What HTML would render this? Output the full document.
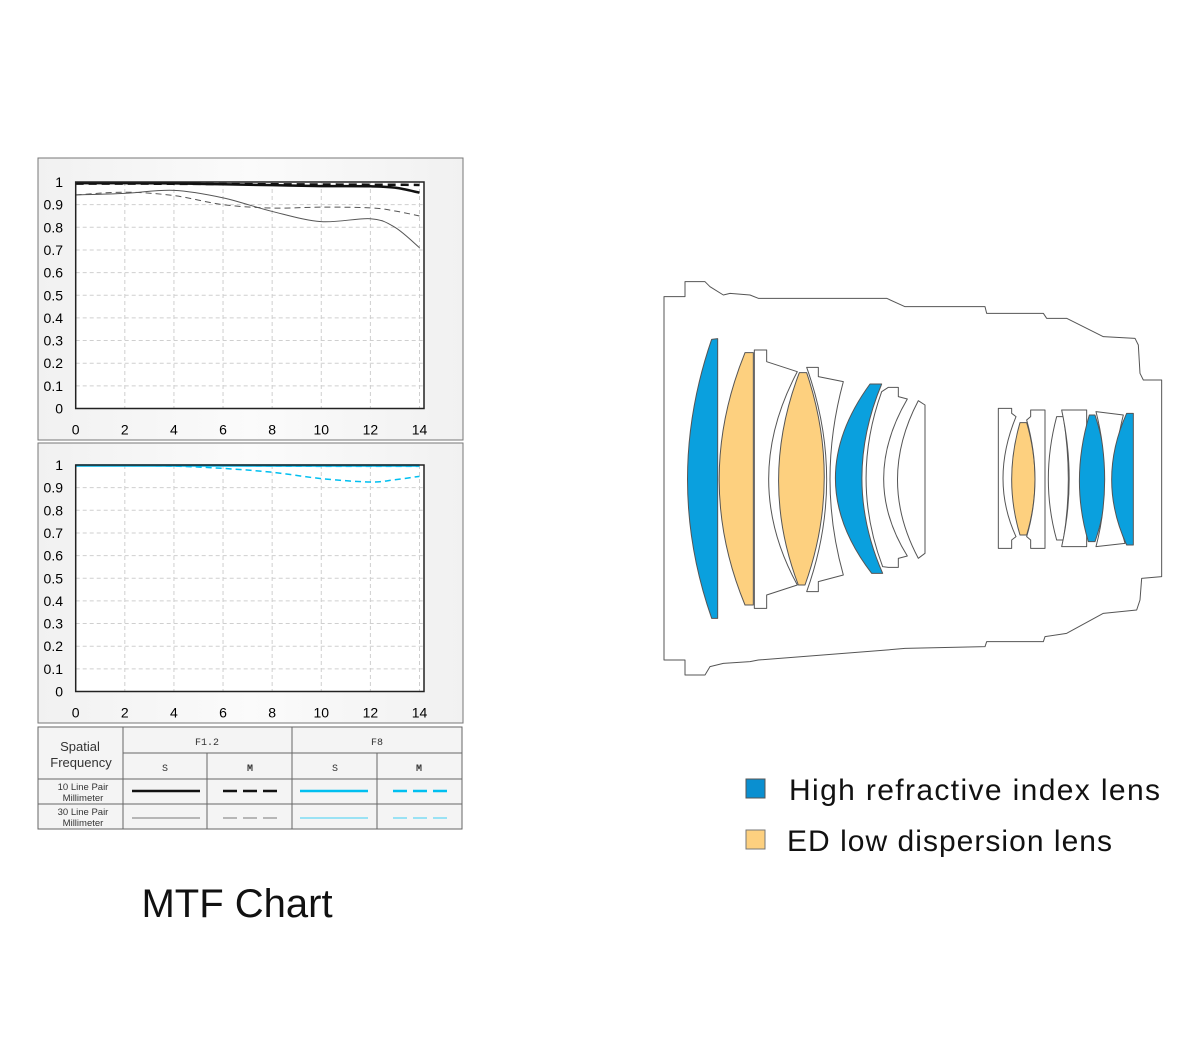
<!DOCTYPE html>
<html><head><meta charset="utf-8">
<style>
html,body{margin:0;padding:0;background:#fff;}
body{width:1200px;height:1049px;overflow:hidden;font-family:"Liberation Sans",sans-serif;}
svg{position:absolute;left:0;top:0;}
</style></head>
<body>
<svg id="root" width="1200" height="1049" viewBox="0 0 1200 1049">
<defs>
<linearGradient id="pg" x1="0" y1="0" x2="1" y2="0">
<stop offset="0" stop-color="#f1f1f1"/><stop offset="0.5" stop-color="#fbfbfb"/><stop offset="1" stop-color="#f1f1f1"/>
</linearGradient>
</defs>
<g id="charts"></g>

<g id="table" font-family="Liberation Sans, sans-serif">
<rect x="38" y="727" width="424" height="102" fill="#f4f4f4" stroke="#666" stroke-width="1"/>
<g stroke="#666" stroke-width="1">
<line x1="123" y1="727" x2="123" y2="829"/>
<line x1="292" y1="727" x2="292" y2="829"/>
<line x1="207" y1="753" x2="207" y2="829"/>
<line x1="377" y1="753" x2="377" y2="829"/>
<line x1="123" y1="753" x2="462" y2="753"/>
<line x1="38" y1="779" x2="462" y2="779"/>
<line x1="38" y1="804" x2="462" y2="804"/>
</g>
<g fill="#333">
<text x="80" y="751" font-size="13" text-anchor="middle">Spatial</text>
<text x="81" y="767" font-size="13" text-anchor="middle">Frequency</text>
<text x="207" y="745" font-size="10" text-anchor="middle" font-family="Liberation Mono, monospace">F1.2</text>
<text x="377" y="745" font-size="10" text-anchor="middle" font-family="Liberation Mono, monospace">F8</text>
<text x="165" y="771" font-size="10" text-anchor="middle" font-family="Liberation Mono, monospace">S</text>
<text x="250" y="771" font-size="10" text-anchor="middle" font-family="Liberation Mono, monospace" font-weight="bold">M</text>
<text x="335" y="771" font-size="10" text-anchor="middle" font-family="Liberation Mono, monospace">S</text>
<text x="419" y="771" font-size="10" text-anchor="middle" font-family="Liberation Mono, monospace" font-weight="bold">M</text>
<text x="83" y="790" font-size="9.5" text-anchor="middle">10 Line Pair</text>
<text x="83" y="801" font-size="9.5" text-anchor="middle">Millimeter</text>
<text x="83" y="815" font-size="9.5" text-anchor="middle">30 Line Pair</text>
<text x="83" y="826" font-size="9.5" text-anchor="middle">Millimeter</text>
</g>
<line x1="132" y1="791" x2="200" y2="791" stroke="#111" stroke-width="2.5"/>
<line x1="223" y1="791" x2="278" y2="791" stroke="#111" stroke-width="2.5" stroke-dasharray="14,6"/>
<line x1="300" y1="791" x2="368" y2="791" stroke="#00bff0" stroke-width="2.5"/>
<line x1="393" y1="791" x2="448" y2="791" stroke="#00bff0" stroke-width="2.5" stroke-dasharray="14,6"/>
<line x1="132" y1="818" x2="200" y2="818" stroke="#777" stroke-width="1"/>
<line x1="223" y1="818" x2="278" y2="818" stroke="#777" stroke-width="1" stroke-dasharray="14,6"/>
<line x1="300" y1="818" x2="368" y2="818" stroke="#40cff5" stroke-width="1"/>
<line x1="393" y1="818" x2="448" y2="818" stroke="#40cff5" stroke-width="1" stroke-dasharray="14,6"/>
</g>

<text x="237" y="917" font-size="40" text-anchor="middle" fill="#111">MTF Chart</text>

<g transform="translate(660,280) scale(0.33333)" stroke="#555" stroke-width="3" stroke-linejoin="round">
<path fill="#fff" d="M12,50 L75,50 L75,5 L135,5 L150,20 L190,45 L210,40 L270,45 L295,55 L680,55 L735,80 L975,80 L980,100 L1150,100 L1160,115 L1220,115 L1330,170 L1425,175 L1435,195 L1440,280 L1450,300 L1505,300 L1505,890 L1445,895 L1440,960 L1430,990 L1330,1000 L1220,1060 L1155,1070 L1150,1085 L980,1085 L975,1100 L735,1105 L680,1110 L295,1140 L270,1145 L190,1150 L150,1160 L135,1185 L75,1185 L75,1140 L12,1140 Z"/>
<path fill="#0aa0de" d="M155,178 L173,176 L173,1015 L155,1015 Q10,600 155,178 Z"/>
<path fill="#fdd07f" d="M255,218 L280,218 L280,975 L255,975 Q100,600 255,218 Z"/>
<path fill="#fff" d="M283,210 L320,210 L320,245 L412,275 Q240,600 412,915 L320,945 L320,985 L283,985 Z"/>
<path fill="#fdd07f" d="M418,278 L440,278 Q548,600 435,915 L415,915 Q295,600 418,278 Z"/>
<path fill="#fff" d="M440,262 L475,262 L475,290 L550,305 Q470,600 550,885 L475,905 L475,935 L440,935 Q560,600 440,262 Z"/>
<path fill="#0aa0de" d="M630,312 L665,312 Q545,600 668,880 L635,880 Q420,600 630,312 Z"/>
<path fill="#fff" d="M685,322 L715,322 L715,350 L742,357 Q600,600 742,828 L715,835 L715,862 L685,862 L668,860 Q570,600 665,335 Z"/>
<path fill="#fff" d="M775,362 L795,375 L795,820 L775,835 Q650,600 775,362 Z"/>
<path fill="#fff" d="M1015,385 L1055,385 L1055,400 L1068,410 Q990,600 1068,770 L1055,780 L1055,805 L1015,805 Z"/>
<path fill="#fdd07f" d="M1080,428 L1100,428 Q1150,600 1100,765 L1080,765 Q1030,600 1080,428 Z"/>
<path fill="#fff" d="M1112,390 L1155,390 L1155,805 L1112,805 L1112,780 L1100,770 Q1150,600 1100,420 L1112,410 Z"/>
<path fill="#fff" d="M1190,410 L1210,410 Q1240,600 1210,780 L1190,780 Q1140,600 1190,410 Z"/>
<path fill="#fff" d="M1205,390 L1280,390 L1280,800 L1205,800 Q1250,600 1205,390 Z"/>
<path fill="#0aa0de" d="M1288,405 L1305,405 Q1370,600 1305,785 L1285,785 Q1230,600 1288,405 Z"/>
<path fill="#fff" d="M1308,395 L1390,405 Q1340,600 1395,790 L1308,800 Q1360,600 1308,395 Z"/>
<path fill="#0aa0de" d="M1400,400 L1420,400 L1420,795 L1400,795 Q1310,600 1400,400 Z"/>
</g>

<g>
<rect x="746" y="779" width="19" height="19" fill="#0a8fd0" stroke="#555" stroke-width="1"/>
<text x="789" y="800" font-size="30" fill="#111" textLength="371">High refractive index lens</text>
<rect x="746" y="830" width="19" height="19" fill="#fdd07f" stroke="#777" stroke-width="1"/>
<text x="787" y="851" font-size="30" fill="#111" textLength="325">ED low dispersion lens</text>
</g>
</svg>

<script>
// Shared axis data
const xTicks = [0, 2, 4, 6, 8, 10, 12, 14];
const yTicks = [0, 0.1, 0.2, 0.3, 0.4, 0.5, 0.6, 0.7, 0.8, 0.9, 1];
const xs = [0, 2, 4, 6, 8, 10, 12, 13, 14];

// Top chart (F1.2)
const f12S10 = [0.995, 0.995, 0.994, 0.99, 0.986, 0.982, 0.981, 0.975, 0.953];
const f12M10 = [0.993, 0.993, 0.992, 0.991, 0.99, 0.989, 0.988, 0.988, 0.987];
const f12S30 = [0.943, 0.95, 0.963, 0.93, 0.87, 0.825, 0.838, 0.8, 0.71];
const f12M30 = [0.943, 0.955, 0.94, 0.9, 0.885, 0.889, 0.886, 0.872, 0.85];

// Bottom chart (F8)
const f8S10 = [0.998, 0.998, 0.998, 0.998, 0.998, 0.998, 0.998, 0.998, 0.998];
const f8M10 = [0.998, 0.997, 0.995, 0.985, 0.968, 0.94, 0.925, 0.935, 0.95];
const f8S30 = [0.997, 0.997, 0.997, 0.997, 0.997, 0.997, 0.997, 0.997, 0.997];
const f8M30 = [0.996, 0.996, 0.996, 0.996, 0.994, 0.993, 0.993, 0.993, 0.993];

const NS = 'http://www.w3.org/2000/svg';
const chartsG = document.getElementById('charts');

function mk(tag, attrs, parent) {
  const e = document.createElementNS(NS, tag);
  for (const k in attrs) e.setAttribute(k, attrs[k]);
  parent.appendChild(e);
  return e;
}

function smoothPath(pts) {
  let d = 'M' + pts[0][0] + ',' + pts[0][1];
  for (let i = 0; i < pts.length - 1; i++) {
    const p0 = pts[i - 1] || pts[i], p1 = pts[i], p2 = pts[i + 1], p3 = pts[i + 2] || p2;
    const c1x = p1[0] + (p2[0] - p0[0]) / 6, c1y = p1[1] + (p2[1] - p0[1]) / 6;
    const c2x = p2[0] - (p3[0] - p1[0]) / 6, c2y = p2[1] - (p3[1] - p1[1]) / 6;
    d += ' C' + c1x + ',' + c1y + ' ' + c2x + ',' + c2y + ' ' + p2[0] + ',' + p2[1];
  }
  return d;
}

function drawChart(name, panel, plot, series) {
  const g = mk('g', {}, chartsG);
  
  
  const bg = mk('rect', {x: panel.x, y: panel.y, width: panel.w, height: panel.h, fill: 'url(#pg)', stroke: '#777', 'stroke-width': 1}, g);
  
  
  const xScale = v => plot.x0 + v * (plot.x14 - plot.x0) / 14;
  const yScale = v => plot.yb - v * (plot.yb - plot.yt);
  const pr = mk('rect', {x: plot.x0, y: plot.yt, width: plot.right - plot.x0, height: plot.yb - plot.yt, fill: '#fff'}, g);
  
  
  yTicks.forEach(t => {
    const y = yScale(t);
    if (t > 0 && t < 1) {
      const gl = mk('line', {x1: plot.x0, x2: plot.right, y1: y, y2: y, stroke: '#cfcfcf', 'stroke-width': 1, 'stroke-dasharray': '4,3'}, g);
      
      
    }
    const tl = mk('text', {x: 63, y: y + 5, 'font-size': 14, 'text-anchor': 'end', fill: '#000'}, g);
    tl.textContent = String(t);
    
    
  });
  xTicks.forEach(t => {
    const x = xScale(t);
    if (t > 0) {
      const gl = mk('line', {x1: x, x2: x, y1: plot.yt, y2: plot.yb, stroke: '#cfcfcf', 'stroke-width': 1, 'stroke-dasharray': '4,3'}, g);
      
      
    }
    const tl = mk('text', {x: x, y: plot.yb + 26, 'font-size': 14, 'text-anchor': 'middle', fill: '#000'}, g);
    tl.textContent = String(t);
    
    
  });
  series.forEach(s => {
    const pts = xs.map((v, i) => [xScale(v), yScale(s.vals[i])]);
    const p = mk('path', {d: smoothPath(pts), fill: 'none', stroke: s.color, 'stroke-width': s.w}, g);
    if (s.dash) p.setAttribute('stroke-dasharray', s.dash);
    
    
  });
  const fr = mk('rect', {x: plot.x0, y: plot.yt, width: plot.right - plot.x0, height: plot.yb - plot.yt, fill: 'none', stroke: '#222', 'stroke-width': 1.5}, g);
  
  
}

drawChart('mtf-chart-f12',
  {x: 38, y: 158, w: 425, h: 282},
  {x0: 75.7, x14: 419.5, right: 424, yt: 182, yb: 408.5},
  [
    {name: 'line-f12-m30', vals: f12M30, color: '#555', w: 1, dash: '6,4'},
    {name: 'line-f12-s30', vals: f12S30, color: '#555', w: 1},
    {name: 'line-f12-m10', vals: f12M10, color: '#111', w: 2.5, dash: '8,5'},
    {name: 'line-f12-s10', vals: f12S10, color: '#111', w: 2.5}
  ]);

drawChart('mtf-chart-f8',
  {x: 38, y: 443, w: 425, h: 280},
  {x0: 75.7, x14: 419.5, right: 424, yt: 465, yb: 691.5},
  [
    {name: 'line-f8-m30', vals: f8M30, color: '#40cff5', w: 1, dash: '6,4'},
    {name: 'line-f8-s30', vals: f8S30, color: '#40cff5', w: 1},
    {name: 'line-f8-m10', vals: f8M10, color: '#00bff0', w: 1.5, dash: '6,4'},
    {name: 'line-f8-s10', vals: f8S10, color: '#00b5ea', w: 2.5}
  ]);
</script>
</body></html>
